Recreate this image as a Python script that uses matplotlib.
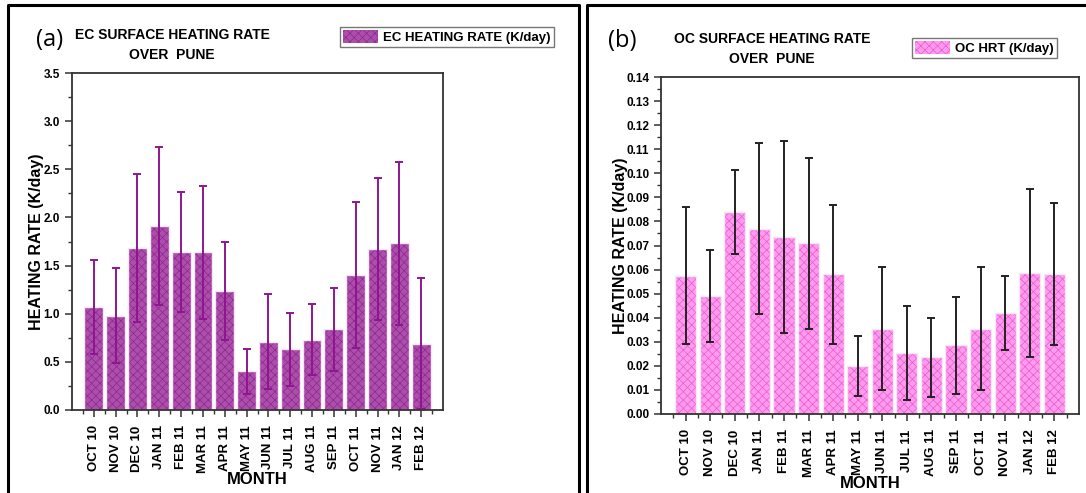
import numpy as np
import matplotlib
matplotlib.use("Agg")
import matplotlib.pyplot as plt
from matplotlib.patches import Patch
from matplotlib.ticker import MultipleLocator

plt.rcParams["font.family"] = ["Liberation Sans", "DejaVu Sans"]
plt.rcParams["hatch.linewidth"] = 0.5

months = ["OCT 10", "NOV 10", "DEC 10", "JAN 11", "FEB 11", "MAR 11", "APR 11",
          "MAY 11", "JUN 11", "JUL 11", "AUG 11", "SEP 11", "OCT 11", "NOV 11",
          "JAN 12", "FEB 12"]

# EC heating rate (K/day) and its spread
ec_hr = [1.07, 0.98, 1.68, 1.91, 1.64, 1.64, 1.24, 0.40, 0.71, 0.63, 0.73, 0.84,
         1.40, 1.67, 1.73, 0.69]
ec_err = [0.49, 0.49, 0.77, 0.82, 0.62, 0.69, 0.51, 0.23, 0.49, 0.38, 0.37, 0.43,
          0.76, 0.74, 0.85, 0.68]

# OC heating rate (K/day) and its spread
oc_hr = [0.0575, 0.049, 0.084, 0.077, 0.0735, 0.071, 0.058, 0.020, 0.0355, 0.0255,
         0.0235, 0.0285, 0.0355, 0.042, 0.0585, 0.058]
oc_err = [0.0285, 0.019, 0.0175, 0.0355, 0.040, 0.0355, 0.029, 0.0125, 0.0255,
          0.0195, 0.0165, 0.020, 0.0255, 0.0155, 0.035, 0.0295]

W, H = 1086, 493
fig = plt.figure(figsize=(W / 100, H / 100), dpi=100)

# panel frames
for x0, x1 in [(8, 579), (587, 1090)]:
    fig.add_artist(plt.Line2D([x0 / W, x0 / W, x1 / W, x1 / W],
                              [-0.01, 1 - 5 / H, 1 - 5 / H, -0.01],
                              color="black", lw=2.2, transform=fig.transFigure))


def panel(rect, vals, errs, face, hatch_col, err_col, ymax, ymajor, yminor, fmt,
          tag, tag_xy, title, title_xy, leg_label, leg_xy, ylab_x, xlab_y):
    ax = fig.add_axes(rect)
    x = np.arange(1, len(vals) + 1)
    ax.bar(x, vals, width=0.86, color=face, edgecolor=hatch_col, hatch="xxxx",
           linewidth=0)
    # light outline around each bar
    ax.bar(x, vals, width=0.86, color="none", edgecolor="#f4e8f4", linewidth=1.0)
    ax.errorbar(x, vals, yerr=errs, fmt="none", ecolor=err_col, elinewidth=1.4,
                capsize=3, capthick=1.4)
    ax.set_xlim(0, 17)
    ax.set_ylim(0, ymax)
    ax.yaxis.set_major_locator(MultipleLocator(ymajor))
    ax.yaxis.set_minor_locator(MultipleLocator(yminor))
    ax.yaxis.set_major_formatter(plt.FormatStrFormatter(fmt))
    ax.set_xticks(x)
    ax.set_xticks(np.arange(0.5, 17, 1.0), minor=True)
    ax.set_xticklabels(months, rotation=90, fontsize=9.5, fontweight="bold")
    for lab in ax.get_yticklabels():
        lab.set_fontsize(8.5)
        lab.set_fontweight("bold")
    ax.tick_params(which="major", length=5, width=1.1, color="#333333")
    ax.tick_params(which="minor", length=3, width=1.0, color="#333333")
    ax.tick_params(axis="x", pad=6)
    for s in ax.spines.values():
        s.set_linewidth(1.3)
        s.set_color("#333333")
    fig.text(ylab_x / W, rect[1] + rect[3] / 2, "HEATING RATE (K/day)", rotation=90,
             ha="center", va="center", fontsize=11.5, fontweight="bold")
    fig.text((rect[0] + rect[2] / 2), 1 - xlab_y / H, "MONTH", ha="center",
             va="center", fontsize=12, fontweight="bold")
    fig.text(tag_xy[0] / W, 1 - tag_xy[1] / H, tag, ha="left", va="center",
             fontsize=17, family=["Open Sans", "DejaVu Sans"])
    fig.text(title_xy[0] / W, 1 - title_xy[1] / H, title, ha="center", va="center",
             fontsize=10, fontweight="bold", linespacing=1.5)
    handle = Patch(facecolor=face, edgecolor=hatch_col, hatch="xxxx", linewidth=0)
    leg = ax.legend([handle], [leg_label], loc="center left",
                    bbox_to_anchor=(leg_xy[0] / W, 1 - leg_xy[1] / H),
                    bbox_transform=fig.transFigure, fancybox=False, framealpha=1,
                    edgecolor="#777777", borderaxespad=0, borderpad=0.25,
                    handlelength=2.6, handleheight=1.2, handletextpad=0.4,
                    prop={"weight": "bold", "size": 9.5})
    leg.get_frame().set_linewidth(1.0)
    return ax


panel([72 / W, 1 - 410 / H, (443 - 72) / W, (410 - 73) / H],
      ec_hr, ec_err, "#AD4EAD", "#8A2A8A", "#8E1690", 3.5, 0.5, 0.25, "%.1f",
      "(a)", (36, 40), "EC SURFACE HEATING RATE\nOVER  PUNE", (172, 45),
      "EC HEATING RATE (K/day)", (340, 37), 37, 479)

panel([661 / W, 1 - 414 / H, (1079 - 661) / W, (414 - 77) / H],
      oc_hr, oc_err, "#FF9AEE", "#E85CD0", "#222222", 0.14, 0.01, 0.005, "%.2f",
      "(b)", (608, 41), "OC SURFACE HEATING RATE\nOVER  PUNE", (772, 49),
      "OC HRT (K/day)", (912, 48), 620, 483)

fig.savefig("out.png", dpi=100)
